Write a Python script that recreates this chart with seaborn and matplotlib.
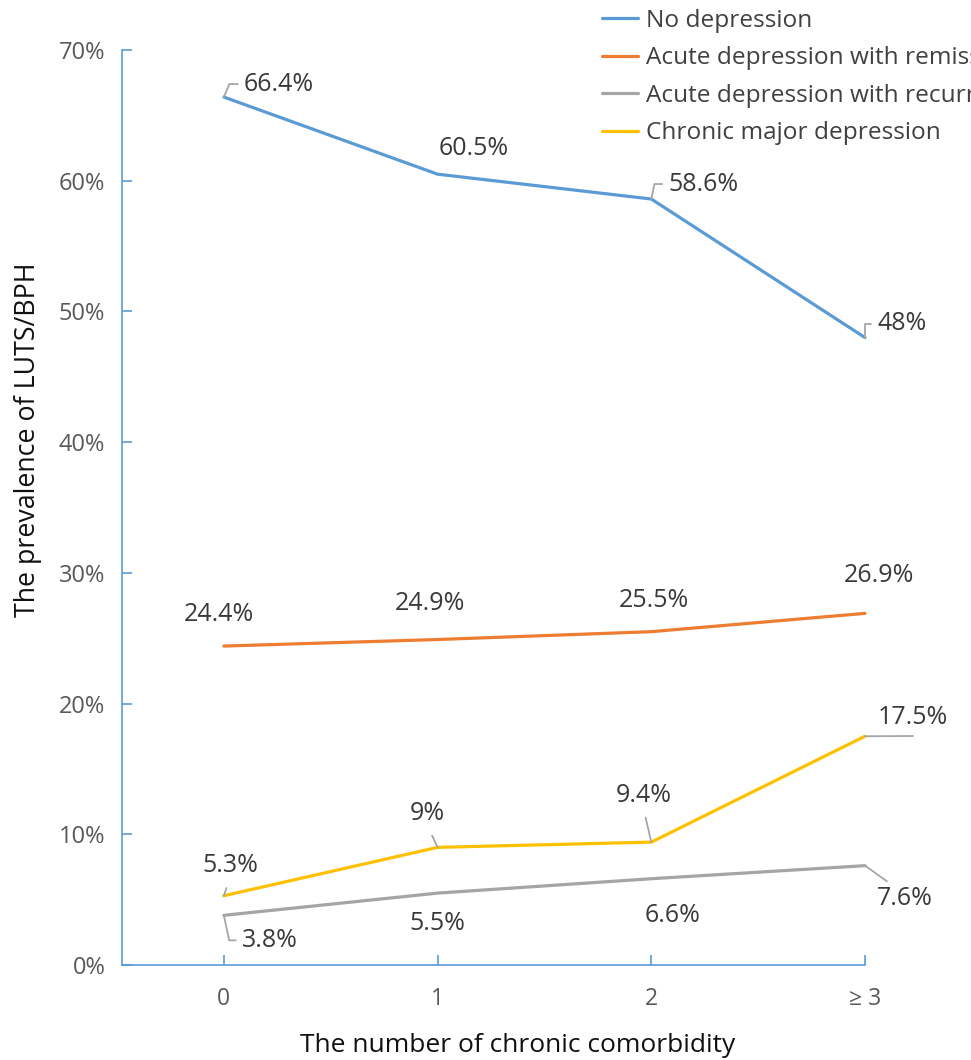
import matplotlib
matplotlib.use("Agg")
import matplotlib.pyplot as plt
from matplotlib.lines import Line2D
import seaborn as sns
import pandas as pd

# Prevalence of LUTS/BPH (%) by number of chronic comorbidities
categories = ["0", "1", "2", "\u2265 3"]
series_names = [
    "No depression",
    "Acute depression with remission",
    "Acute depression with recurrence",
    "Chronic major depression",
]
no_depression = [66.4, 60.5, 58.6, 48.0]
acute_remission = [24.4, 24.9, 25.5, 26.9]
acute_recurrence = [3.8, 5.5, 6.6, 7.6]
chronic_major = [5.3, 9.0, 9.4, 17.5]
value_labels = {
    "No depression": ["66.4%", "60.5%", "58.6%", "48%"],
    "Acute depression with remission": ["24.4%", "24.9%", "25.5%", "26.9%"],
    "Acute depression with recurrence": ["3.8%", "5.5%", "6.6%", "7.6%"],
    "Chronic major depression": ["5.3%", "9%", "9.4%", "17.5%"],
}
y_ticks = [0, 10, 20, 30, 40, 50, 60, 70]
y_tick_labels = ["0%", "10%", "20%", "30%", "40%", "50%", "60%", "70%"]

colors = ["#5B9BD5", "#ED7D31", "#A5A5A5", "#FFC000"]

values = [no_depression, acute_remission, acute_recurrence, chronic_major]
df = pd.DataFrame(
    [
        {"pos": i, "series": name, "value": v}
        for name, vals in zip(series_names, values)
        for i, v in enumerate(vals)
    ]
)

sns.set_theme(style="white")
plt.rcParams["font.family"] = ["Open Sans", "DejaVu Sans"]

fig = plt.figure(figsize=(9.71, 10.6), dpi=100)
ax = fig.add_axes([122 / 971, 95 / 1060, 743 / 971, 915 / 1060])

sns.lineplot(
    data=df, x="pos", y="value", hue="series", hue_order=series_names,
    palette=colors, linewidth=2.3, ax=ax, legend=False, clip_on=False,
)

ax.set_xlim(-0.4766, 3.0)
ax.set_ylim(0, 70)
ax.set_xticks(range(len(categories)))
ax.set_xticklabels(categories)
ax.set_yticks(y_ticks)
ax.set_yticklabels(y_tick_labels)

axis_blue = "#5B9BD5"
for side in ["top", "right"]:
    ax.spines[side].set_visible(False)
for side in ["left", "bottom"]:
    ax.spines[side].set_color(axis_blue)
    ax.spines[side].set_linewidth(1.2)
ax.tick_params(axis="y", direction="in", length=7, width=1.2, color=axis_blue,
               pad=12, labelsize=17, labelcolor="#595959", left=True)
ax.tick_params(axis="x", direction="in", length=7, width=1.2, color=axis_blue,
               pad=16, labelsize=16.5, labelcolor="#595959", bottom=True)
ax.grid(False)

ax.set_xlabel("The number of chronic comorbidity", fontsize=19,
              color="#111111")
ax.xaxis.set_label_coords(0.533, -0.0745)
ax.set_ylabel("The prevalence of LUTS/BPH", fontsize=19.3, color="#111111")
ax.yaxis.set_label_coords(-0.107, 0.574)

# Data label placement: offset in pixels from the point, alignment, leader style
leader_color = "#A6A6A6"
label_layout = {
    "No depression": [
        (20, 13, "left", ("bracket", 67)),
        (36, 26, "center", None),
        (17, 15, "left", ("bracket", 78)),
        (12, 14, "left", ("bracket", 90)),
    ],
    "Acute depression with remission": [
        (-5, 32, "center", None),
        (-8, 36, "center", None),
        (3, 31, "center", None),
        (14, 38, "center", None),
    ],
    "Acute depression with recurrence": [
        (18, -25, "left", ("bracket", -78)),
        (0, -30, "center", None),
        (21, -37, "center", None),
        (12, -33, "left", ("straight_top", 0.3)),
    ],
    "Chronic major depression": [
        (6, 30, "center", ("straight_bottom", 0.5)),
        (-10, 34, "center", ("straight_bottom", 0.5)),
        (-8, 47, "center", ("straight_bottom", 0.5)),
        (13, 19, "left", ("flat", 0.5)),
    ],
}

for name, vals in zip(series_names, values):
    for i, (v, txt) in enumerate(zip(vals, value_labels[name])):
        dx, dy, ha, leader = label_layout[name][i]
        arrow = None
        if leader is not None:
            kind, param = leader
            base = dict(arrowstyle="-", color=leader_color, lw=1.3, shrinkB=0)
            if kind == "bracket":
                arrow = dict(base, relpos=(0, 0.5), shrinkA=2,
                             connectionstyle=f"angle,angleA=0,angleB={param},rad=0")
            elif kind == "straight_bottom":
                arrow = dict(base, relpos=(param, 0), shrinkA=5)
            elif kind == "straight_top":
                arrow = dict(base, relpos=(param, 1), shrinkA=2)
            elif kind == "flat":
                arrow = dict(base, relpos=(0.5, -0.25), shrinkA=0)
        ax.annotate(
            txt, xy=(i, v), xytext=(dx, dy), textcoords="offset pixels",
            ha=ha, va="center", fontsize=18, color="#3A3A3A",
            arrowprops=arrow, annotation_clip=False,
        )

# Legend in the top-right corner
handles = [Line2D([], [], color=c, linewidth=2.3) for c in colors]
fig.legend(
    handles, series_names, loc="upper left",
    bbox_to_anchor=(602 / 971, 1 - 9 / 1060), frameon=False,
    fontsize=17.6, labelcolor="#404040", handlelength=1.48,
    handletextpad=0.33, labelspacing=0.55, borderpad=0, borderaxespad=0,
)

fig.savefig("out.png", dpi=100)
